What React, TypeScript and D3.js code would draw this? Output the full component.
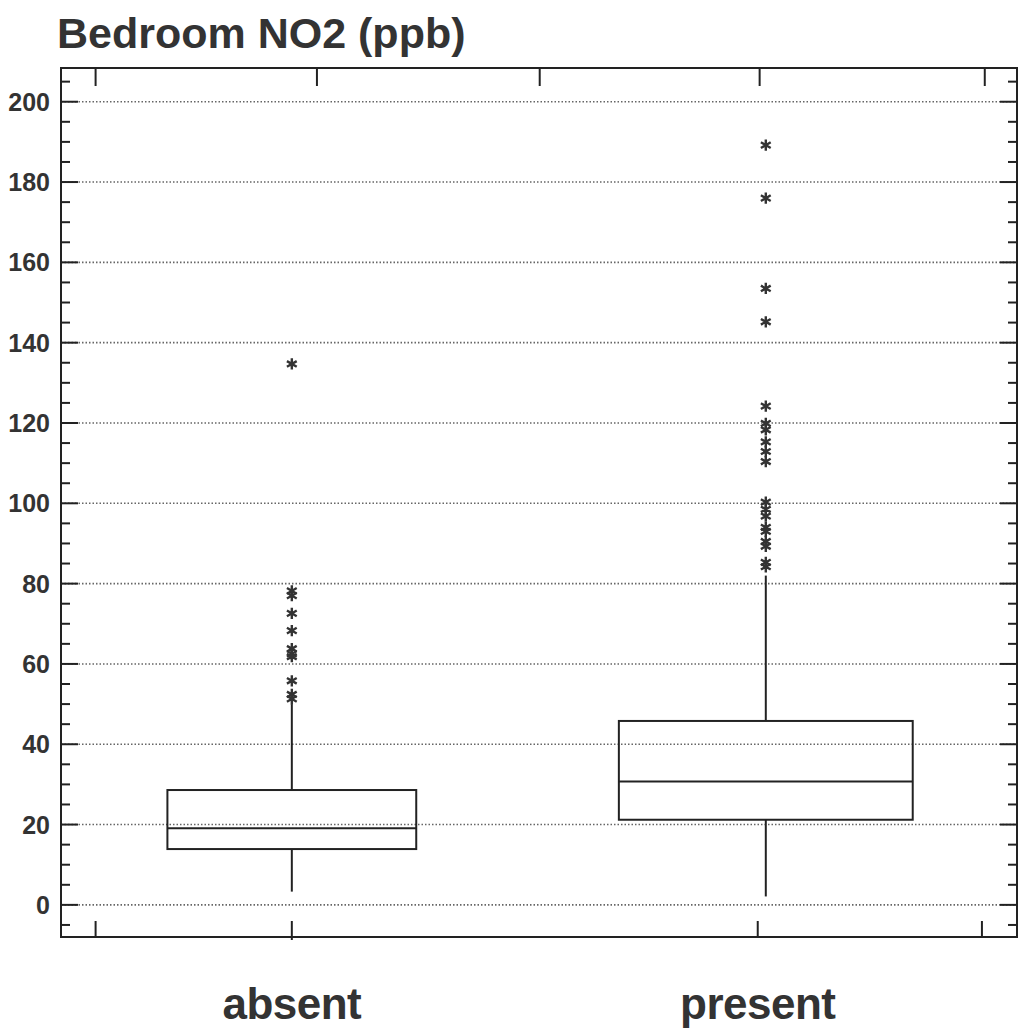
import React from "react";
import * as d3 from "d3";

const title = "Bedroom NO2 (ppb)";
const categories = ["absent", "present"];
const catIndex = [1, 2];
const q1 = [13.9, 21.2];
const medians = [19.1, 30.7];
const q3 = [28.6, 45.8];
const whiskerLow = [3.3, 2.1];
const whiskerHigh = [50, 82];
const boxWidths = [0.525, 0.62];
const outliersAbsent = [134.7, 78.2, 77.0, 72.6, 68.3, 63.8, 62.5, 61.8, 55.8, 52.4, 51.3];
const outliersPresent = [189.2, 176, 153.5, 145.2, 124.2, 119.9, 118.3, 115.3, 112.9, 110.4, 100.3, 98.5, 96.8, 94, 93, 90.5, 89.3, 85.3, 84.2];
const yTicks = [0, 20, 40, 60, 80, 100, 120, 140, 160, 180, 200];
const yMinorTicks = d3.range(-5, 206, 5).filter((v) => v % 20 !== 0);
const topTicks = [0.586, 1.053, 1.523, 1.987, 2.462];
const bottomTicks = [0.586, 1, 1.983, 2.456];
const labelPos = [1, 1.983];

const W = 1018;
const H = 1030;
const L = 61, R = 1017, T = 68, B = 937;

export default function App() {
  const x = d3.scaleLinear().domain([0.513, 2.53]).range([L, R]);
  const y = d3.scaleLinear().domain([-8, 208.4]).range([B, T]);
  const outliers = [outliersAbsent, outliersPresent];
  const star = d3.symbol().type(d3.symbolAsterisk).size(90)();
  const ink = "#222";
  const font = "'Liberation Sans', Arial, Helvetica, sans-serif";
  return (
    <svg width={W} height={H} style={{ position: "absolute", left: 0, top: 0, background: "#fff" }}>
      <text x={57} y={48} fontFamily={font} fontWeight="bold" fontSize={43} fill="#333">{title}</text>
      {yTicks.map((t) => (
        <line key={"g" + t} x1={L} x2={R} y1={y(t)} y2={y(t)} stroke="#666" strokeWidth={1.6} strokeDasharray="1.5,2" />
      ))}
      {yTicks.map((t) => (
        <g key={"t" + t}>
          <line x1={L} x2={L + 17} y1={y(t)} y2={y(t)} stroke={ink} strokeWidth={2} />
          <line x1={R - 17} x2={R} y1={y(t)} y2={y(t)} stroke={ink} strokeWidth={2} />
          <text x={50} y={y(t)} dy="0.36em" textAnchor="end" fontFamily={font} fontWeight="bold" fontSize={25} fill="#333">{t}</text>
        </g>
      ))}
      {yMinorTicks.map((t) => (
        <g key={"m" + t}>
          <line x1={L} x2={L + 9} y1={y(t)} y2={y(t)} stroke={ink} strokeWidth={2} />
          <line x1={R - 9} x2={R} y1={y(t)} y2={y(t)} stroke={ink} strokeWidth={2} />
        </g>
      ))}
      {topTicks.map((t) => (
        <line key={"tt" + t} x1={x(t)} x2={x(t)} y1={T} y2={T + 18} stroke={ink} strokeWidth={2} />
      ))}
      {bottomTicks.map((t) => (
        <line key={"bt" + t} x1={x(t)} x2={x(t)} y1={B - 16} y2={t === 1 ? B + 3 : B} stroke={ink} strokeWidth={2} />
      ))}
      {categories.map((c, i) => {
        const cx = x(catIndex[i]);
        const hw = (x(catIndex[i] + boxWidths[i] / 2) - x(catIndex[i] - boxWidths[i] / 2)) / 2;
        return (
          <g key={c}>
            <line x1={cx} x2={cx} y1={y(q3[i])} y2={y(whiskerHigh[i])} stroke={ink} strokeWidth={2} />
            <line x1={cx} x2={cx} y1={y(q1[i])} y2={y(whiskerLow[i])} stroke={ink} strokeWidth={2} />
            <rect x={cx - hw} y={y(q3[i])} width={2 * hw} height={y(q1[i]) - y(q3[i])} fill="none" stroke={ink} strokeWidth={2} />
            <line x1={cx - hw} x2={cx + hw} y1={y(medians[i])} y2={y(medians[i])} stroke={ink} strokeWidth={2} />
            {outliers[i].map((v, j) => (
              <path key={j} d={star as string} transform={`translate(${cx},${y(v)})`} stroke="#333" strokeWidth={2.4} fill="none" />
            ))}
            <text x={x(labelPos[i])} y={1019} textAnchor="middle" fontFamily={font} fontWeight="bold" fontSize={44} letterSpacing={-0.5} fill="#333">{c}</text>
          </g>
        );
      })}
      <rect x={L} y={T} width={R - L} height={B - T} fill="none" stroke={ink} strokeWidth={2} />
    </svg>
  );
}
